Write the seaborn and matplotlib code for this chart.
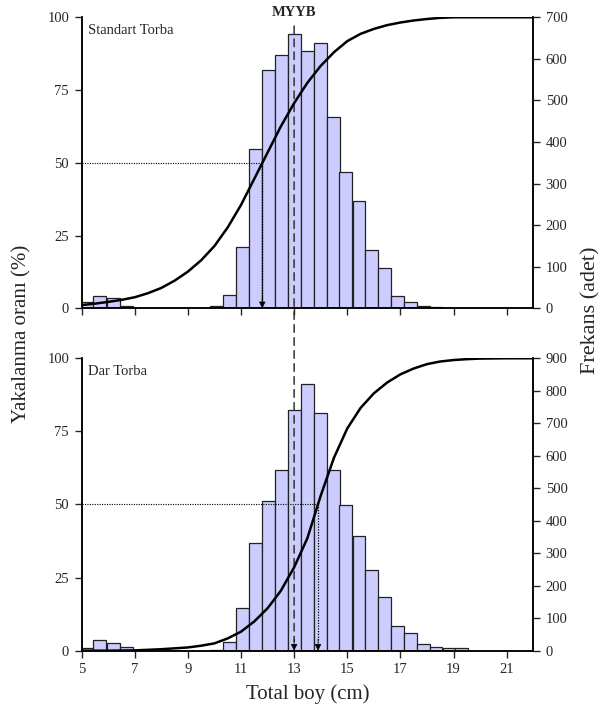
import numpy as np
import pandas as pd
import seaborn as sns
import matplotlib.pyplot as plt
from matplotlib.patches import ConnectionPatch

# length classes (cm)
len_top = [5.19, 5.69, 6.19, 6.69, 10.08, 10.57, 11.05, 11.53, 12.03, 12.52, 13.0,
           13.49, 13.98, 14.47, 14.95, 15.44, 15.92, 16.4, 16.89, 17.37, 17.86, 18.34]
freq_top = [16, 30, 25, 5, 5, 31, 147, 383, 572, 609, 659,
            619, 639, 459, 328, 259, 140, 96, 30, 16, 6, 4]

len_bot = [5.19, 5.69, 6.19, 6.69, 10.08, 10.57, 11.05, 11.53, 12.03, 12.52, 13.0,
           13.49, 13.98, 14.47, 14.95, 15.44, 15.92, 16.4, 16.89, 17.37, 17.86,
           18.34, 18.83, 19.31]
freq_bot = [7, 33, 23, 10, 2, 26, 131, 331, 462, 557, 740,
            822, 733, 557, 449, 353, 249, 166, 77, 53, 20,
            10, 7, 7]

# selectivity curves (%)
curve_top_x = [5, 5.5, 6, 6.5, 7, 7.5, 8, 8.5, 9, 9.5, 10, 10.5, 11, 11.5, 12, 12.5, 13,
               13.5, 14, 14.5, 15, 15.5, 16, 16.5, 17, 17.5, 18, 18.5, 19, 22]
curve_top_y = [1.1, 1.6, 2.2, 2.9, 3.8, 5.2, 7.0, 9.5, 12.6, 16.5, 21.4, 27.8, 35.5, 44.5,
               53.5, 62.5, 70.5, 77.5, 83.3, 88, 91.8, 94.3, 96, 97.3, 98.2, 98.9, 99.4,
               99.8, 100, 100]
curve_bot_x = [5, 6, 7, 7.5, 8, 8.5, 9, 9.5, 10, 10.5, 11, 11.5, 12, 12.5, 13, 13.5, 14,
               14.5, 15, 15.5, 16, 16.5, 17, 17.5, 18, 18.5, 19, 19.5, 20, 21, 22]
curve_bot_y = [0, 0, 0.1, 0.3, 0.5, 0.8, 1.1, 1.7, 2.5, 4.2, 6.5, 10, 14.5, 20.5, 28.5,
               38.5, 53, 66, 76, 83, 88, 91.7, 94.5, 96.5, 98, 98.9, 99.4, 99.7, 99.9,
               100, 100]

l50_top = 11.8
l50_bot = 13.9
myyb = 13.0

sns.set_style("ticks")
plt.rcParams["font.family"] = ["Liberation Serif", "DejaVu Serif"]
plt.rcParams["axes.linewidth"] = 1.1

fig = plt.figure(figsize=(6, 7.17), dpi=100)
ax1 = fig.add_axes([0.136, 0.570, 0.7527, 0.4059])
ax2 = fig.add_axes([0.136, 0.0925, 0.7527, 0.4078])

bar_fc = "#ccccff"


def panel(ax, lens, freqs, cx, cy, fmax, label, l50):
    tw = ax.twinx()
    tw.bar(lens, freqs, width=0.485, color=bar_fc, edgecolor="#222222", linewidth=0.9)
    tw.set_ylim(0, fmax)
    tw.set_yticks(range(0, fmax + 1, 100))
    tw.tick_params(axis="y", direction="out", length=5, width=1, labelsize=10.5, pad=4)
    ax.set_zorder(tw.get_zorder() + 1)
    ax.patch.set_visible(False)

    d = pd.DataFrame({"x": cx, "y": cy})
    sns.lineplot(data=d, x="x", y="y", ax=ax, color="black", linewidth=1.8)
    ax.set_xlim(5, 22)
    ax.set_ylim(0, 100)
    ax.set_yticks([0, 25, 50, 75, 100])
    ax.set_xticks(range(5, 22, 2))
    ax.tick_params(direction="out", length=5, width=1, labelsize=10.5, pad=4)
    ax.set_xlabel("")
    ax.set_ylabel("")
    for a in (ax, tw):
        a.spines["top"].set_visible(False)
        for s in a.spines.values():
            s.set_color("black")

    # 50% line + arrow
    ax.plot([5, l50], [50, 50], color="black", linestyle=(0, (1, 1.2)), linewidth=0.8)
    ax.plot([l50, l50], [50, 3], color="black", linestyle=(0, (1, 1.2)), linewidth=0.9)
    ax.annotate("", xy=(l50, 0), xytext=(l50, 4),
                arrowprops=dict(arrowstyle="-|>", color="black", lw=0.5,
                                mutation_scale=10, shrinkA=0, shrinkB=0))
    ax.text(5.25, 95.5, label, fontsize=10.5, ha="left", va="center")
    return tw


tw1 = panel(ax1, len_top, freq_top, curve_top_x, curve_top_y, 700, "Standart Torba", l50_top)
tw2 = panel(ax2, len_bot, freq_bot, curve_bot_x, curve_bot_y, 900, "Dar Torba", l50_bot)
ax1.set_xticklabels([])
ax2.set_xlabel("Total boy (cm)", fontsize=15, labelpad=6)

# MYYB dashed line crossing both panels
con = ConnectionPatch(xyA=(myyb, 97), coordsA=ax1.transData,
                      xyB=(myyb, 3), coordsB=ax2.transData,
                      color="#333333", linestyle=(0, (5, 3.5)), linewidth=1.1)
fig.add_artist(con)
ax2.annotate("", xy=(myyb, 0), xytext=(myyb, 4),
             arrowprops=dict(arrowstyle="-|>", color="black", lw=0.5,
                             mutation_scale=10, shrinkA=0, shrinkB=0))
ax1.text(myyb, 101.5, "MYYB", fontsize=10.5, fontweight="bold", ha="center", va="center")

fig.text(0.037, 0.535, "Yakalanma oranı (%)", rotation=90, fontsize=15, ha="center", va="center")
fig.text(0.985, 0.567, "Frekans (adet)", rotation=90, fontsize=16, ha="center", va="center")

fig.savefig("out.png", dpi=100)
